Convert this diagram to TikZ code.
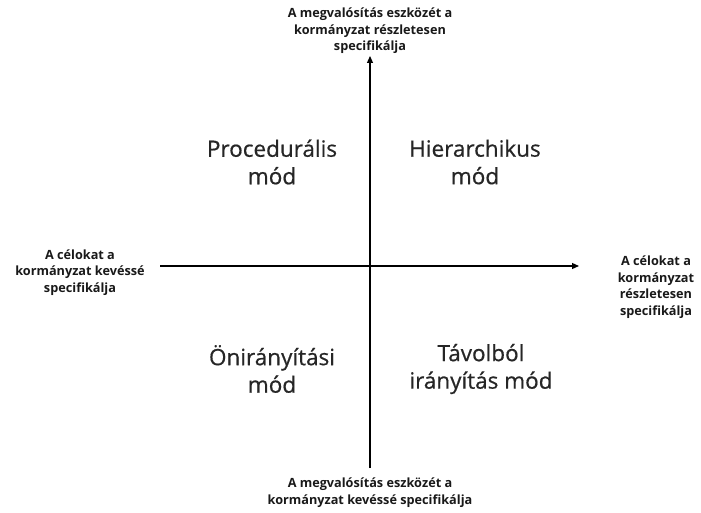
\documentclass[tikz,border=0pt]{standalone}
\usepackage{fontspec}
\setmainfont{Open Sans}
\newfontfamily\quadfont[UprightFeatures={FakeBold=0.6}]{Open Sans}
\usetikzlibrary{arrows.meta}
\begin{document}
\begin{tikzpicture}[x=1pt,y=-1pt,
  axis/.style={line width=1.2pt,-{Triangle[length=7pt,width=6pt]}},
  axlabel/.style={align=center,font=\fontsize{12.7}{16.5}\selectfont\bfseries,inner sep=0pt,text=black!90},
  quad/.style={align=center,font=\fontsize{22.5}{27.5}\quadfont\selectfont,inner sep=0pt,text=black!85}]
\useasboundingbox (0,0) rectangle (701,513);
% axes
\coordinate (vb) at (370,468);
\coordinate (vt) at (370,56);
\coordinate (hl) at (160,266);
\coordinate (hr) at (579,266);
\draw[axis] (vb) -- (vt);
\draw[axis] (hl) -- (hr);
% axis labels
\node[axlabel] (top) at (370,31) {A megvalósítás eszközét a\\kormányzat részletesen\\specifikálja};
\node[axlabel] (bottom) at (370,492.5) {A megvalósítás eszközét a\\kormányzat kevéssé specifikálja};
\node[axlabel] (left) at (80,272.5) {A célokat a\\kormányzat kevéssé\\specifikálja};
\node[axlabel] (right) at (656,287) {A célokat a\\kormányzat\\részletesen\\specifikálja};
% quadrant labels
\node[quad] (q1) at (272,162) {Procedurális\\mód};
\node[quad] (q2) at (475,162) {Hierarchikus\\mód};
\node[quad] (q3) at (272,369) {Önirányítási\\mód};
\node[quad] (q4) at (481,369) {Távolból\\irányítás mód};
\end{tikzpicture}
\end{document}
